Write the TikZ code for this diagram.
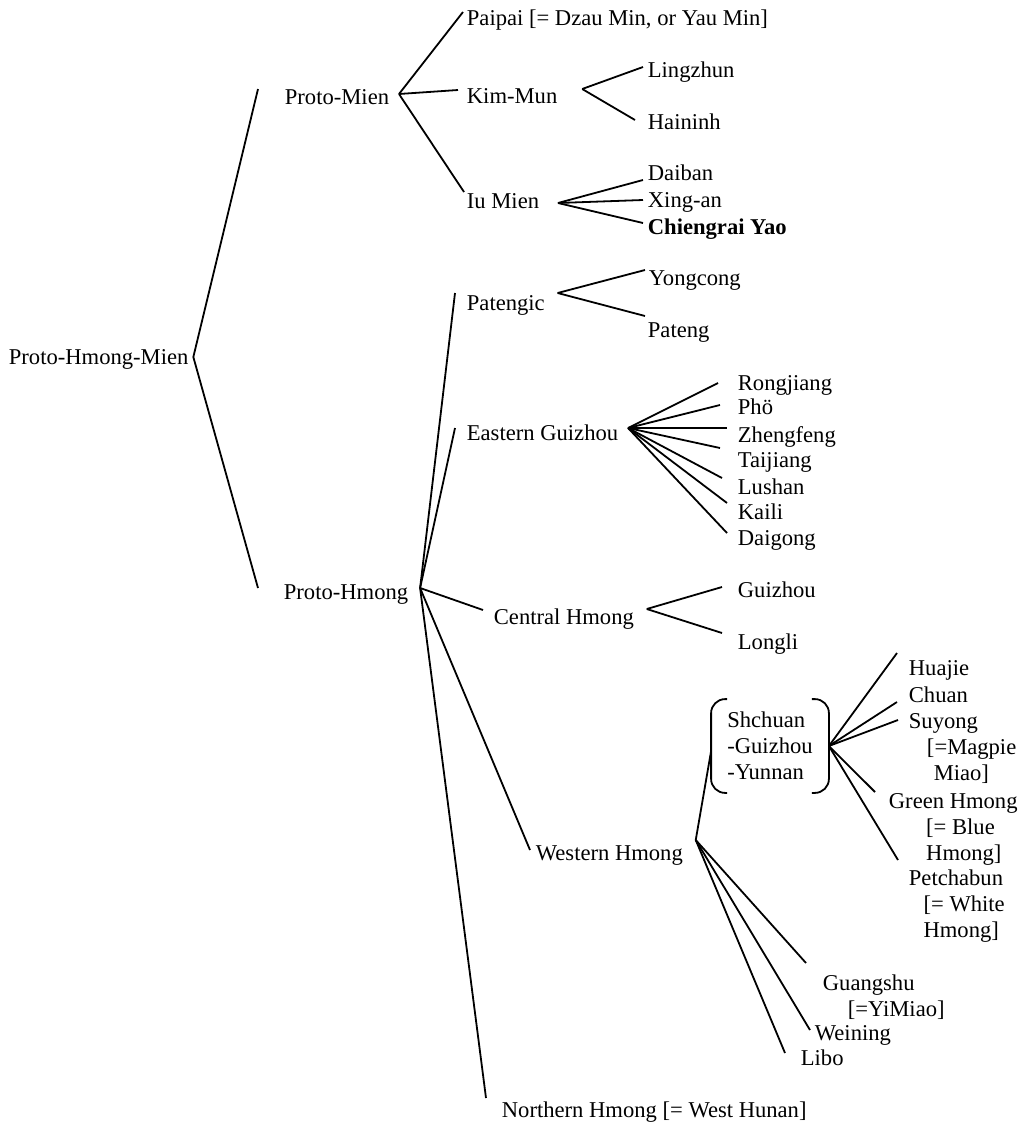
\documentclass[tikz,border=0pt]{standalone}
\usepackage{fontspec}
\setmainfont{Liberation Serif}
\usetikzlibrary{positioning}

\begin{document}
\begin{tikzpicture}[x=0.5pt,y=-0.5pt,line width=0.9pt,
    lang/.style={anchor=west,inner sep=2pt,text height=7.5pt,text depth=0pt,font=\fontsize{11.3}{13}\selectfont},
    block/.style={anchor=north west,inner sep=2pt,align=left,font=\fontsize{11.3}{13}\selectfont}]
\useasboundingbox (0,0) rectangle (1022,1125);

% names
\node[lang] (phm) at (4,357) {Proto-Hmong-Mien};
\node[lang] (pmien) at (280,97) {Proto-Mien};
\node[lang] (phmong) at (279,592) {Proto-Hmong};

\node[lang] (paipai) at (462,18) {Paipai [= Dzau Min, or Yau Min]};
\node[lang] (kimmun) at (462,96) {Kim-Mun};
\node[lang] (iumien) at (462,201) {Iu Mien};
\node[lang] (lingzhun) at (643,70) {Lingzhun};
\node[lang] (haininh) at (643,122) {Haininh};
\node[lang] (daiban) at (643,173) {Daiban};
\node[lang] (xingan) at (643,200) {Xing-an};
\node[lang] (chiengrai) at (643,227) {\bfseries Chiengrai Yao};

\node[lang] (patengic) at (462,303) {Patengic};
\node[lang] (yongcong) at (644,278) {Yongcong};
\node[lang] (pateng) at (643,330) {Pateng};
\node[lang] (eguizhou) at (462,433) {Eastern Guizhou};
\foreach \n/\y/\t in {rongjiang/383/Rongjiang, pho/407/Phö, zhengfeng/435/Zhengfeng,
    taijiang/460/Taijiang, lushan/487/Lushan, kaili/512/Kaili, daigong/538/Daigong}
  \node[lang] (\n) at (733,\y) {\t};

\node[lang] (central) at (489,617) {Central Hmong};
\node[lang] (guizhou) at (733,590) {Guizhou};
\node[lang] (longli) at (733,642) {Longli};
\node[lang] (western) at (531,853) {Western Hmong};
\node[lang] (northern) at (497,1110) {Northern Hmong [= West Hunan]};

\node[align=left,inner sep=0pt,minimum width=58pt,minimum height=46pt,
  font=\fontsize{11.3}{13}\selectfont] (sgy) at (770,746) {Shchuan\\-Guizhou\\-Yunnan};
\node[lang] (huajie) at (904,668) {Huajie};
\node[lang] (chuan) at (904,695) {Chuan};
\node[block] (suyong) at (904,709) {Suyong\\\hspace*{0.8em}[=Magpie\\\hspace*{1.1em}Miao]};
\node[block] (green) at (884,789) {Green Hmong\\\hspace*{1.65em}[= Blue\\\hspace*{1.65em}Hmong]};
\node[block] (petchabun) at (904,865) {Petchabun\\\hspace*{0.65em}[= White\\\hspace*{0.65em}Hmong]};
\node[block] (guangshu) at (818,969.5) {Guangshu\\\hspace*{1.1em}[=YiMiao]};
\node[lang] (weining) at (810,1033) {Weining};
\node[lang] (libo) at (796,1058) {Libo};

% branching points
\coordinate (pmv) at ([shift={(5,-3)}]pmien.east);
\coordinate (kmv) at ([shift={(20,-7)}]kimmun.east);
\coordinate (imv) at ([shift={(14,2)}]iumien.east);
\coordinate (ptv) at ([shift={(8,-10)}]patengic.east);
\coordinate (phv) at ([shift={(7,-4)}]phmong.east);
\coordinate (egv) at ([shift={(5,-5)}]eguizhou.east);
\coordinate (chv) at ([shift={(8,-8)}]central.east);
\coordinate (wv) at ([shift={(8,-13)}]western.east);

% brackets
\draw[rounded corners=7pt] ([shift={(16,0)}]sgy.north west) -| (sgy.south west) -- ([shift={(16,0)}]sgy.south west);
\draw[rounded corners=7pt] ([shift={(-17,0)}]sgy.north east) -| (sgy.south east) -- ([shift={(-17,0)}]sgy.south east);

% tree
\draw (phm.east) -- ([shift={(-22,-8)}]pmien.west);
\draw (phm.east) -- ([shift={(-21,-4)}]phmong.west);

\draw (pmv) -- ([shift={(1,-6)}]paipai.west);
\draw (pmv) -- ([shift={(-4,-6)}]kimmun.west);
\draw (pmv) -- ([shift={(2,-9)}]iumien.west);
\draw (kmv) -- ([shift={(0,-3)}]lingzhun.west);
\draw (kmv) -- ([shift={(-8,-2)}]haininh.west);
\draw (imv) -- ([shift={(0,7)}]daiban.west);
\draw (imv) -- (xingan.west);
\draw (imv) -- ([shift={(0,-4)}]chiengrai.west);

\draw (phv) -- ([shift={(-7,-10)}]patengic.west);
\draw (phv) -- ([shift={(-7,-5)}]eguizhou.west);
\draw (phv) -- ([shift={(-6,-7)}]central.west);
\draw (phv) -- ([shift={(-1,-3)}]western.west);
\draw (phv) -- ([shift={(-11,-12)}]northern.west);

\draw (ptv) -- ([shift={(1,-8)}]yongcong.west);
\draw (ptv) -- ([shift={(2,-14)}]pateng.west);
\foreach \n/\dx/\dy in {rongjiang/-15/0, pho/-13/-2, zhengfeng/-6/-7, taijiang/-13/-12,
    lushan/-11/-9, kaili/-6/-9, daigong/-6/-5}
  \draw (egv) -- ([shift={(\dx,\dy)}]\n.west);
\draw (chv) -- ([shift={(-11,-3)}]guizhou.west);
\draw (chv) -- ([shift={(-11,-9)}]longli.west);

\draw (wv) -- ([shift={(0,5)}]sgy.west);
\draw (wv) -- ([shift={(-12,-6.5)}]guangshu.north west);
\draw (wv) -- ([shift={(0,-3)}]weining.west);
\draw (wv) -- ([shift={(-11,-5)}]libo.west);
\draw (sgy.east) -- ([shift={(-7,-15)}]huajie.west);
\draw (sgy.east) -- ([shift={(-7,7)}]chuan.west);
\draw (sgy.east) -- ([shift={(-6,11)}]suyong.north west);
\draw (sgy.east) -- ([shift={(-9,3)}]green.north west);
\draw (sgy.east) -- ([shift={(-6,-5)}]petchabun.north west);
\end{tikzpicture}
\end{document}
